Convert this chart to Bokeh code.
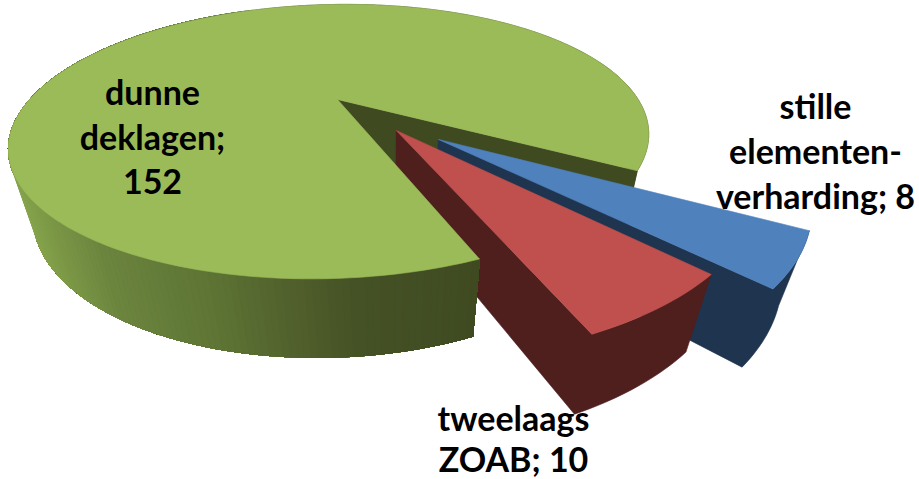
import numpy as np
from bokeh.plotting import figure
from bokeh.models import Range1d
from bokeh.core.properties import value
from bokeh.embed import file_html
from bokeh.resources import INLINE

# ---- data
categories = ["stille elementenverharding", "tweelaags ZOAB", "dunne deklagen"]
values = [8, 10, 152]
label_lines = [["stille", "elementen-", "verharding; 8"], ["tweelaags", "ZOAB; 10"], ["dunne", "deklagen;", "152"]]

# ---- style / layout
top_colors = ["#4F81BD", "#C0504D", "#9BBB59"]
side_colors = ["#1F344F", "#4F1F1E", "#3F4A21"]
explode_xy = [(0.309, 0.286), (0.186, 0.226), (0.0, 0.0)]
radii = [1.02, 1.025, 0.975]
label_xy = [(815, 105, 45), (513, 417, 41), (152, 91, 45)]
first_angle = 29.5
cx, cy, A, B, K, M, H, S = 337.0, 99.0, 312.0, 127.5, 0.3146, 0.012, 0.061, -15.0
vx, vy = 392.0, 1250.0
grad_x = [10, 40, 100, 200, 290, 350, 480]
grad_c = [(0x88, 0xA6, 0x4E), (0x7D, 0x9A, 0x47), (0x6B, 0x84, 0x3E), (0x5E, 0x75, 0x35), (0x50, 0x5F, 0x2C), (0x45, 0x52, 0x25), (0x3F, 0x4A, 0x21)]


def top(x, y):
    w = 1 - K * y + M * x
    return cx + (A * x + S * y) / w, cy + B * y / w


def bottom(x, y):
    w = 1 - K * y + M * x
    X, Y = top(x, y)
    s = H / (w + H)
    return X + s * (vx - X), Y + s * (vy - Y)


def rim(i, a):
    t = np.radians(a)
    return explode_xy[i][0] + radii[i] * np.cos(t), explode_xy[i][1] + radii[i] * np.sin(t)


total = sum(values)
edges = [first_angle]
for v in values:
    edges.append(edges[-1] + 360.0 * v / total)

xs, ys, cols = [], [], []


def add(pts, c):
    xs.append([q[0] for q in pts])
    ys.append([q[1] for q in pts])
    cols.append(c)


def cut_face(i, a, c):
    o = explode_xy[i]
    e = rim(i, a)
    add([top(*o), top(*e), bottom(*e), bottom(*o)], c)


def wall(i, a0, a1, c):
    ang = np.linspace(a0, a1, max(8, int(abs(a1 - a0))))
    pts = [rim(i, a) for a in ang]
    add([top(*q) for q in pts] + [bottom(*q) for q in reversed(pts)], c)


def body(i, a0, a1, c):
    # radial face at a1 and the rim as one outline, so no seam shows between them
    o = explode_xy[i]
    ang = np.linspace(a0, a1, max(8, int(abs(a1 - a0))))
    pts = [rim(i, a) for a in ang]
    add([top(*o)] + [top(*q) for q in reversed(pts)] + [bottom(*q) for q in pts] + [bottom(*o)], c)


def wall_gradient(i, a0, a1):
    # painted from the far end, each band running on under the next so no seam shows
    ang = np.arange(a1, a0 - 1.0, -1.0)
    for u in ang:
        arc = np.linspace(a0, u, max(2, int(u - a0) + 1))
        q = rim(i, u)
        mid = top(*q)[0]
        rgb = [np.interp(mid, grad_x, [g[k] for g in grad_c]) for k in range(3)]
        col = "#%02x%02x%02x" % tuple(int(round(z)) for z in rgb)
        pts = [rim(i, a) for a in arc]
        add([top(*z) for z in pts] + [bottom(*z) for z in reversed(pts)], col)


def cap(i, a0, a1, c):
    ang = np.linspace(a0, a1, max(8, int(abs(a1 - a0))))
    add([top(*explode_xy[i])] + [top(*rim(i, a)) for a in ang], c)


# green: back wall and the radial face that looks at the viewer
wall(2, edges[2] + 180, edges[3], side_colors[2])
cut_face(2, edges[3], side_colors[2])
# blue
body(0, edges[0], edges[1], side_colors[0])
cap(0, edges[0], edges[1], top_colors[0])
# red
body(1, edges[1], edges[2], side_colors[1])
cap(1, edges[1], edges[2], top_colors[1])
# green front
wall_gradient(2, edges[2], edges[2] + 180)
cap(2, edges[2], edges[3], top_colors[2])

p = figure(width=919, height=479, x_range=Range1d(0, 919), y_range=Range1d(479, 0),
           output_backend="svg", toolbar_location=None, min_border=0)
p.styles = {"position": "absolute", "left": "0", "top": "0"}
p.axis.visible = False
p.grid.visible = False
p.outline_line_color = None
p.patches(xs, ys, fill_color=cols, line_color=cols, line_width=0.6)

for lines, (lx, ly, step) in zip(label_lines, label_xy):
    p.text([lx] * len(lines), [ly + step * j for j in range(len(lines))], text=lines,
           text_font=value("Lato"), text_font_style="bold", text_font_size="34px",
           text_align="center", text_baseline="middle", text_color="#000000")

open("out.html", "w").write(file_html(p, INLINE))
